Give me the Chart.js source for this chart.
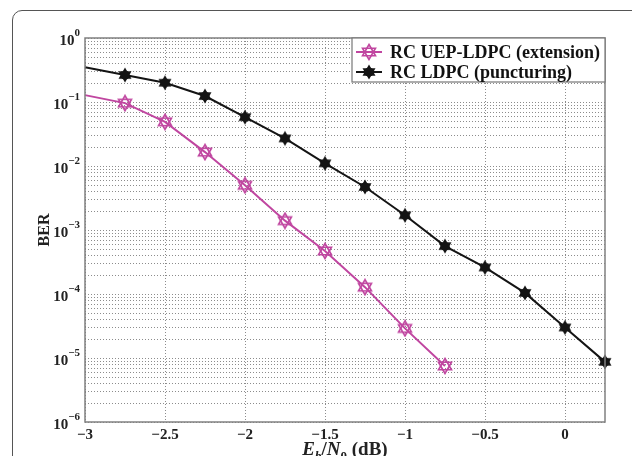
<!DOCTYPE html>
<html>
<head>
<meta charset="utf-8">
<script src="https://cdn.jsdelivr.net/npm/chart.js@4.4.0/dist/chart.umd.min.js"></script>
<style>
    body { margin: 0; background: #fff; overflow: hidden; }
    #wrap { position: relative; width: 632px; height: 456px; }
    #frame {
        position: absolute; left: 12px; top: 10px; width: 700px; height: 520px;
        border: 1.5px solid #555; border-radius: 10px; box-sizing: border-box;
    }
    #chart { position: absolute; left: 0; top: 0; }
    #xtitle {
        position: absolute; left: 0; width: 690px; top: 439px; text-align: center;
        font-family: "Liberation Serif", serif; font-size: 19px; color: #222;
        font-weight: bold; line-height: 19px;
    }
    #xtitle sub { font-size: 13px; font-style: normal; }
</style>
</head>
<body>
<div id="wrap">
    <div id="frame"></div>
    <canvas id="chart" width="632" height="456"></canvas>
    <div id="xtitle"><i>E</i><sub><i>b</i></sub>/<i>N</i><sub>0</sub> (dB)</div>
</div>
<script>
// Data
const ebno = [-3, -2.75, -2.5, -2.25, -2, -1.75, -1.5, -1.25, -1, -0.75, -0.5, -0.25, 0, 0.25];
const berUep = [0.128, 0.096, 0.049, 0.0165, 0.005, 0.0014, 4.7e-4, 1.28e-4, 2.9e-5, 7.5e-6];
const berLdpc = [0.35, 0.264, 0.2, 0.124, 0.058, 0.027, 0.011, 0.0047, 0.0017, 5.6e-4, 2.6e-4, 1.04e-4, 3.0e-5, 8.7e-6];
const seriesNames = ['RC UEP-LDPC (extension)', 'RC LDPC (puncturing)'];
const xTicks = [-3, -2.5, -2, -1.5, -1, -0.5, 0];
const yDecades = [-6, -5, -4, -3, -2, -1, 0];
const yMinor = [1, 2, 3, 4, 5, 6, 7, 8, 9];

const magenta = 'rgb(192, 70, 160)';
const black = 'rgb(20, 20, 20)';
const serif = '"Liberation Serif", "Times New Roman", serif';

// hexagram marker drawn on a small canvas
function hexagram(color, filled) {
    const c = document.createElement('canvas');
    c.width = 18; c.height = 18;
    const g = c.getContext('2d');
    const r = 7.5;
    g.strokeStyle = color; g.fillStyle = color; g.lineWidth = filled ? 1 : 1.6;
    [-90, 90].forEach(start => {
        g.beginPath();
        for (let i = 0; i < 3; i++) {
            const a = (start + i * 120) * Math.PI / 180;
            const px = 9 + r * Math.cos(a), py = 9 + r * Math.sin(a);
            i === 0 ? g.moveTo(px, py) : g.lineTo(px, py);
        }
        g.closePath();
        filled ? g.fill() : g.stroke();
    });
    if (filled) {
        g.beginPath(); g.arc(9, 9, 4.5, 0, Math.PI * 2); g.fill();
    }
    return c;
}
const uepMarker = hexagram(magenta, false);
const ldpcMarker = hexagram(black, true);

// dotted grid, drawn from the scales' own ticks
const dottedGrid = {
    id: 'dottedGrid',
    beforeDatasetsDraw(chart) {
        const { ctx, chartArea: a, scales } = chart;
        ctx.save();
        ctx.strokeStyle = '#8c8c8c';
        ctx.lineWidth = 1;
        ctx.setLineDash([1, 2]);
        scales.x.ticks.forEach(t => {
            const px = Math.round(scales.x.getPixelForValue(t.value)) + 0.5;
            ctx.beginPath(); ctx.moveTo(px, a.top); ctx.lineTo(px, a.bottom); ctx.stroke();
        });
        scales.y.ticks.forEach(t => {
            const py = Math.round(scales.y.getPixelForValue(t.value)) + 0.5;
            ctx.beginPath(); ctx.moveTo(a.left, py); ctx.lineTo(a.right, py); ctx.stroke();
        });
        ctx.restore();
    }
};

// "10" with a raised exponent for each decade of the y axis
const decadeLabels = {
    id: 'decadeLabels',
    afterDraw(chart) {
        const { ctx, scales } = chart;
        const right = chart.chartArea.left - 5;
        ctx.save();
        ctx.fillStyle = '#222';
        ctx.textBaseline = 'alphabetic';
        yDecades.forEach(e => {
            const py = scales.y.getPixelForValue(Math.pow(10, e));
            const exp = (e < 0 ? '\u2212' : '') + Math.abs(e);
            ctx.font = 'bold 11px ' + serif;
            const ew = ctx.measureText(exp).width;
            ctx.textAlign = 'left';
            ctx.fillText(exp, right - ew, py - 2);
            ctx.font = 'bold 15px ' + serif;
            ctx.textAlign = 'right';
            ctx.fillText('10', right - ew, py + 7);
        });
        ctx.restore();
    }
};

const frameBox = {
    id: 'frameBox',
    afterDatasetsDraw(chart) {
        const { ctx, chartArea: a } = chart;
        ctx.save();
        ctx.strokeStyle = '#808080';
        ctx.lineWidth = 1.5;
        ctx.strokeRect(a.left, a.top, a.right - a.left, a.bottom - a.top);

        // legend box in the upper right corner
        const w = 253, h = 44, x0 = a.right - w, y0 = a.top;
        ctx.fillStyle = '#fff';
        ctx.fillRect(x0, y0, w, h);
        ctx.strokeStyle = '#777';
        ctx.lineWidth = 1.2;
        ctx.strokeRect(x0, y0, w, h);
        const items = [
            { label: seriesNames[0], color: magenta, marker: uepMarker },
            { label: seriesNames[1], color: black, marker: ldpcMarker }
        ];
        ctx.font = 'bold 18px ' + serif;
        ctx.textBaseline = 'middle';
        items.forEach((it, i) => {
            const y = y0 + 14 + i * 20;
            ctx.strokeStyle = it.color;
            ctx.lineWidth = 2;
            ctx.beginPath(); ctx.moveTo(x0 + 4, y); ctx.lineTo(x0 + 30, y); ctx.stroke();
            ctx.drawImage(it.marker, x0 + 17 - 9, y - 9);
            ctx.fillStyle = '#111';
            ctx.fillText(it.label, x0 + 38, y + 1);
        });
        ctx.restore();
    }
};

new Chart(document.getElementById('chart'), {
    type: 'line',
    data: {
        datasets: [
            {
                label: seriesNames[0],
                data: berUep.map((v, i) => ({ x: ebno[i], y: v })),
                borderColor: magenta,
                borderWidth: 2,
                pointStyle: uepMarker,
                pointRadius: (c) => c.dataIndex === 0 ? 0 : 7,
                tension: 0,
                clip: false
            },
            {
                label: seriesNames[1],
                data: berLdpc.map((v, i) => ({ x: ebno[i], y: v })),
                borderColor: black,
                borderWidth: 2,
                pointStyle: ldpcMarker,
                pointRadius: (c) => c.dataIndex === 0 ? 0 : 7,
                tension: 0,
                clip: false
            }
        ]
    },
    options: {
        responsive: false,
        animation: false,
        layout: { padding: { left: 35, right: 27, top: 38, bottom: 0 } },
        plugins: {
            legend: { display: false },
            tooltip: { enabled: false }
        },
        scales: {
            x: {
                type: 'linear',
                min: -3,
                max: 0.25,
                afterBuildTicks: (s) => { s.ticks = xTicks.map(v => ({ value: v })); },
                afterFit: (s) => { s.height = 34; },
                border: { display: false },
                grid: { display: false, drawTicks: false },
                ticks: {
                    padding: 4,
                    color: '#222',
                    font: { family: serif, size: 15, weight: 'bold' },
                    maxRotation: 0,
                    callback: (v) => (v < 0 ? '\u2212' : '') + Math.abs(v)
                }
            },
            y: {
                type: 'logarithmic',
                min: 1e-6,
                max: 1,
                afterBuildTicks: (s) => {
                    const t = [];
                    yDecades.forEach(e => {
                        yMinor.forEach(m => {
                            const v = m * Math.pow(10, e);
                            if (v <= 1) t.push({ value: v });
                        });
                    });
                    s.ticks = t;
                },
                afterFit: (s) => { s.width = 50; },
                border: { display: false },
                grid: { display: false, drawTicks: false },
                title: {
                    display: true,
                    text: 'BER',
                    color: '#222',
                    font: { family: serif, size: 16, weight: 'bold' },
                    padding: { top: 0, bottom: 0 }
                },
                ticks: {
                    padding: 5,
                    autoSkip: false,
                    callback: () => ''
                }
            }
        }
    },
    plugins: [dottedGrid, frameBox, decadeLabels]
});
</script>
</body>
</html>
